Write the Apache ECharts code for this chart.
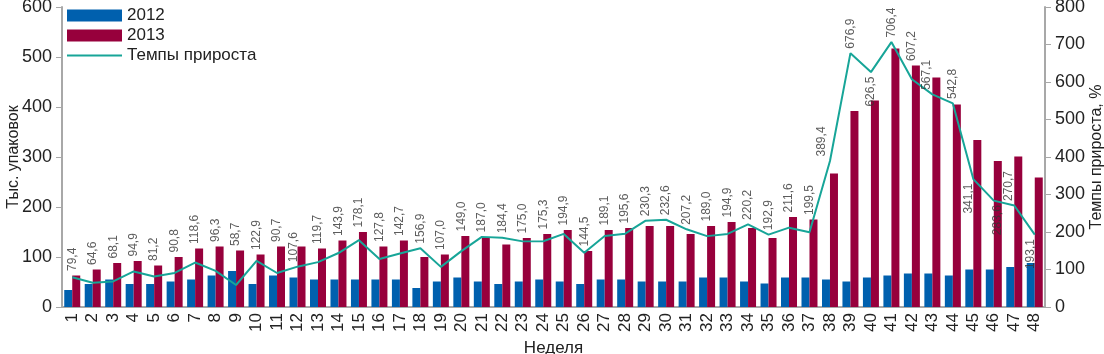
<!DOCTYPE html>
<html>
<head>
<meta charset="utf-8">
<script src="https://cdn.jsdelivr.net/npm/echarts@6/dist/echarts.min.js"></script>
<style>
  html, body { margin: 0; padding: 0; background: #fff; }
  #chart { width: 1104px; height: 354px; }
</style>
</head>
<body>
<div id="chart"></div>
<script>
// недели
const weeks = ['1','2','3','4','5','6','7','8','9','10','11','12','13','14','15','16',
  '17','18','19','20','21','22','23','24','25','26','27','28','29','30','31','32',
  '33','34','35','36','37','38','39','40','41','42','43','44','45','46','47','48'];

// тыс. упаковок
const sales2012 = [34, 46, 55, 46, 46, 51, 55, 63, 72, 46, 63, 59, 55, 55, 55, 55,
  55, 38, 51, 59, 51, 46, 51, 55, 51, 46, 55, 55, 51, 51, 51, 59,
  59, 51, 47, 59, 59, 55, 51, 59, 63, 67, 67, 63, 75, 75, 80, 88];
const sales2013 = [63, 75, 88, 92, 83, 100, 117, 121, 113, 105, 121, 121, 117, 133, 150, 121,
  133, 100, 105, 142, 138, 125, 138, 146, 154, 112, 154, 158, 162, 162, 146, 162,
  170, 158, 138, 180, 175, 267, 392, 413, 517, 483, 459, 405, 334, 292, 301, 259];

// темпы прироста, %
const growth = [79.4, 64.6, 68.1, 94.9, 81.2, 90.8, 118.6, 96.3, 58.7, 122.9, 90.7, 107.6,
  119.7, 143.9, 178.1, 127.8, 142.7, 156.9, 107.0, 149.0, 187.0, 184.4, 175.0, 175.3,
  194.9, 144.5, 189.1, 195.6, 230.3, 232.6, 207.2, 189.0, 194.9, 220.2, 192.9, 211.6,
  199.5, 389.4, 676.9, 626.5, 706.4, 607.2, 567.1, 542.8, 341.1, 283.6, 270.7, 193.1];

// подписи под точкой линии: индекс -> сдвиг по x
const labelsBelow = { 39: 0, 44: -5, 45: 4, 47: -4 };
// подписи над самой точкой (а не над столбиком): индекс -> сдвиг по x
const labelsAtPoint = { 11: -4, 37: -8, 42: -6, 46: -6 };
// тёмные риски на оси X
const monthTicks = [4, 10, 15, 21, 27, 33, 39, 45];

const FONT = 'Liberation Sans';
const AXIS_GRAY = '#a8a8a8';
const TEAL = '#17a598';
const LEFT_MAX = 600;
const RIGHT_MAX = 800;

// подписи к линии — отдельной невидимой серией; по умолчанию над столбиком 2013,
// если он выше точки линии. Подпись повёрнута на 90°, поэтому сдвиг по x
// экрана задаётся второй координатой offset
const labelData = growth.map((g, i) => {
  if (i in labelsBelow) {
    return { value: g, label: { position: 'bottom', align: 'right', offset: [0, labelsBelow[i]] } };
  }
  if (i in labelsAtPoint) {
    return { value: g, label: { offset: [0, labelsAtPoint[i]] } };
  }
  return Math.max(g, sales2013[i] * RIGHT_MAX / LEFT_MAX);
});

const chart = echarts.init(document.getElementById('chart'));

chart.setOption({
  animation: false,
  textStyle: { fontFamily: FONT, color: '#222' },
  grid: { left: 62, right: 59, top: 7, bottom: 47, outerBoundsMode: 'none', containLabel: false },
  legend: {
    orient: 'vertical',
    left: 61,
    top: 2,
    itemWidth: 55,
    itemHeight: 12,
    itemGap: 3,
    textStyle: { fontSize: 17, lineHeight: 16, color: '#222', fontFamily: FONT },
    data: [
      { name: '2012', icon: 'rect' },
      { name: '2013', icon: 'rect' },
      { name: 'Темпы прироста', itemStyle: { opacity: 0 } }
    ]
  },
  xAxis: [
    {
      type: 'category',
      data: weeks,
      name: 'Неделя',
      nameLocation: 'middle',
      nameGap: 28,
      nameTextStyle: { fontSize: 17, color: '#222' },
      axisLine: { lineStyle: { color: AXIS_GRAY, width: 2 } },
      axisTick: { length: 6, lineStyle: { color: AXIS_GRAY, width: 1 } },
      axisLabel: { rotate: 90, fontSize: 17, color: '#222', margin: 6, interval: 0 }
    },
    {
      type: 'category',
      data: weeks,
      position: 'bottom',
      axisLine: { show: false },
      axisLabel: { show: false },
      axisTick: {
        length: 8,
        interval: (idx) => monthTicks.includes(idx),
        lineStyle: { color: '#222', width: 1 }
      }
    }
  ],
  yAxis: [
    {
      type: 'value',
      min: 0,
      max: LEFT_MAX,
      interval: 100,
      name: 'Тыс. упаковок',
      nameLocation: 'middle',
      nameGap: 40,
      nameMoveOverlap: false,
      nameTextStyle: { fontSize: 16, color: '#222' },
      axisLine: { show: true, lineStyle: { color: AXIS_GRAY, width: 2 } },
      axisTick: { show: true, length: 6, lineStyle: { color: AXIS_GRAY } },
      axisLabel: { fontSize: 18, color: '#222', margin: 10 },
      splitLine: { show: false }
    },
    {
      type: 'value',
      min: 0,
      max: RIGHT_MAX,
      interval: 100,
      name: 'Темпы прироста, %',
      nameLocation: 'middle',
      nameGap: 44,
      nameMoveOverlap: false,
      nameRotate: 90,
      nameTextStyle: { fontSize: 16, color: '#222' },
      axisLine: { show: true, lineStyle: { color: AXIS_GRAY, width: 2 } },
      axisTick: { show: true, length: 6, lineStyle: { color: AXIS_GRAY } },
      axisLabel: { fontSize: 18, color: '#222', margin: 10 },
      splitLine: { show: false }
    }
  ],
  series: [
    {
      name: '2012',
      type: 'bar',
      data: sales2012,
      barWidth: 8,
      barGap: '0%',
      itemStyle: { color: '#0060ae' }
    },
    {
      name: '2013',
      type: 'bar',
      data: sales2013,
      barWidth: 8,
      itemStyle: { color: '#97003c' }
    },
    {
      name: 'Темпы прироста',
      type: 'line',
      yAxisIndex: 1,
      data: growth,
      symbol: 'none',
      lineStyle: { color: TEAL, width: 2 },
      itemStyle: { color: TEAL },
      z: 5
    },
    {
      name: 'labels',
      type: 'scatter',
      yAxisIndex: 1,
      data: labelData,
      symbolSize: 1,
      itemStyle: { color: 'rgba(0,0,0,0)' },
      silent: true,
      z: 6,
      label: {
        show: true,
        position: 'top',
        rotate: 90,
        align: 'left',
        verticalAlign: 'middle',
        distance: 4,
        fontSize: 12,
        color: '#333',
        fontFamily: FONT,
        formatter: (p) => growth[p.dataIndex].toFixed(1).replace('.', ',')
      }
    }
  ]
});
</script>
</body>
</html>
